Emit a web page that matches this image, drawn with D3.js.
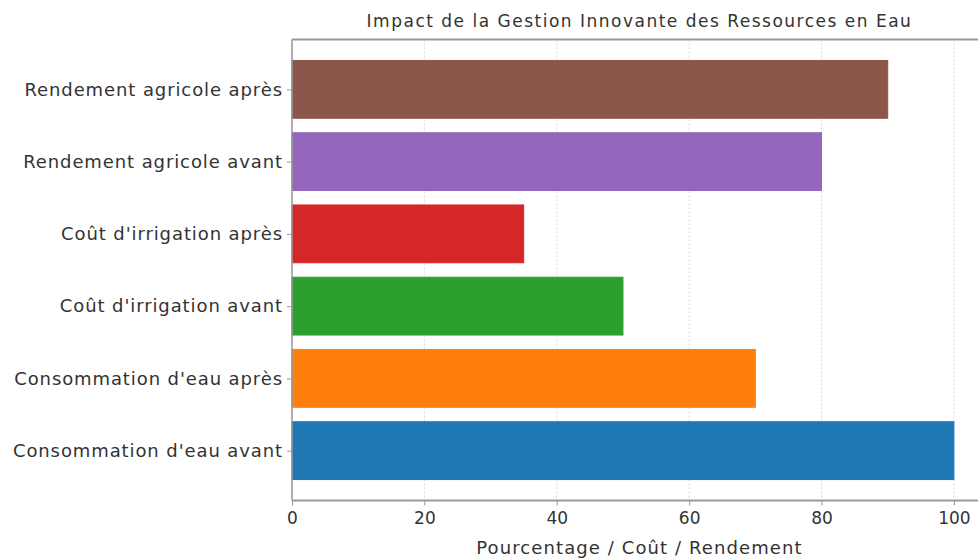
<!DOCTYPE html>
<html>
<head>
<meta charset="utf-8">
<style>
  body { margin: 0; background: #fff; }
  text { font-family: "DejaVu Sans", sans-serif; fill: #333; }
</style>
</head>
<body>
<svg width="978" height="558"></svg>
<script src="https://d3js.org/d3.v7.min.js"></script>
<script>
// categories bottom -> top, as in the picture
var categories = [
  "Consommation d'eau avant",
  "Consommation d'eau après",
  "Coût d'irrigation avant",
  "Coût d'irrigation après",
  "Rendement agricole avant",
  "Rendement agricole après"
]
var values = [100, 70, 50, 35, 80, 90]
var colors = ["#1f77b4", "#ff7f0e", "#2ca02c", "#d62728", "#9467bd", "#8c564b"]
var xTicks = [0, 20, 40, 60, 80, 100]

var svg = d3.select('svg')
var plotLeft = 292, plotRight = 987, plotTop = 39.5, plotBottom = 500.5
var fontFam = '"DejaVu Sans", sans-serif'

var x = d3.scaleLinear().domain([0, 105]).range([plotLeft, plotRight])
// matplotlib-like: index positions with 0.8 bar height and 5% margins
var y = d3.scaleLinear().domain([-0.69, 5.69]).range([plotBottom, plotTop])
var bh = y(0) - y(0.8)

// grid
svg.append('g').selectAll('line')
  .data(xTicks)
  .enter().append('line')
  .attr('x1', function (d) { return x(d) })
  .attr('x2', function (d) { return x(d) })
  .attr('y1', plotTop).attr('y2', plotBottom)
  .attr('stroke', '#d8d8d8')
  .attr('stroke-width', 1)
  .attr('stroke-dasharray', '2,2')

// bars
svg.append('g').selectAll('rect')
  .data(values)
  .enter().append('rect')
  .attr('x', x(0))
  .attr('y', function (d, i) { return y(i) - bh / 2 })
  .attr('width', function (d) { return x(d) - x(0) })
  .attr('height', bh)
  .attr('fill', function (d, i) { return colors[i] })
  .attr('stroke', function (d, i) { return colors[i] })
  .attr('stroke-width', 1)

// spines
svg.append('line').attr('x1', plotLeft).attr('x2', plotRight).attr('y1', plotTop).attr('y2', plotTop)
  .attr('stroke', '#999').attr('stroke-width', 2)
svg.append('line').attr('x1', plotLeft).attr('x2', plotRight).attr('y1', plotBottom).attr('y2', plotBottom)
  .attr('stroke', '#999').attr('stroke-width', 2)
svg.append('line').attr('x1', plotLeft).attr('x2', plotLeft).attr('y1', plotTop).attr('y2', plotBottom)
  .attr('stroke', '#999').attr('stroke-width', 1.5)

// x axis
var xAxis = svg.append('g')
  .attr('transform', 'translate(0,' + plotBottom + ')')
  .call(d3.axisBottom(x).tickValues(xTicks).tickSize(5).tickPadding(6))
xAxis.select('.domain').remove()
xAxis.selectAll('line').attr('stroke', '#999')
xAxis.selectAll('text').attr('font-size', 17).style('fill', '#333')
  .style('font-family', fontFam)

// y axis
var yAxis = svg.append('g')
  .attr('transform', 'translate(' + plotLeft + ',0)')
  .call(d3.axisLeft(y).tickValues(d3.range(categories.length))
    .tickFormat(function (i) { return categories[i] }).tickSize(5).tickPadding(4))
yAxis.select('.domain').remove()
yAxis.selectAll('line').attr('stroke', '#999')
yAxis.selectAll('text').attr('font-size', 18).style('fill', '#333')
  .style('letter-spacing', '0.9px')
  .style('font-family', fontFam)

// title and x label
svg.append('text')
  .attr('x', (plotLeft + plotRight) / 2).attr('y', 27)
  .attr('text-anchor', 'middle')
  .attr('font-size', 17)
  .style('letter-spacing', '1.5px')
  .text('Impact de la Gestion Innovante des Ressources en Eau')
svg.append('text')
  .attr('x', (plotLeft + plotRight) / 2).attr('y', 554)
  .attr('text-anchor', 'middle')
  .attr('font-size', 18)
  .style('letter-spacing', '1.1px')
  .text('Pourcentage / Coût / Rendement')
</script>
</body>
</html>
